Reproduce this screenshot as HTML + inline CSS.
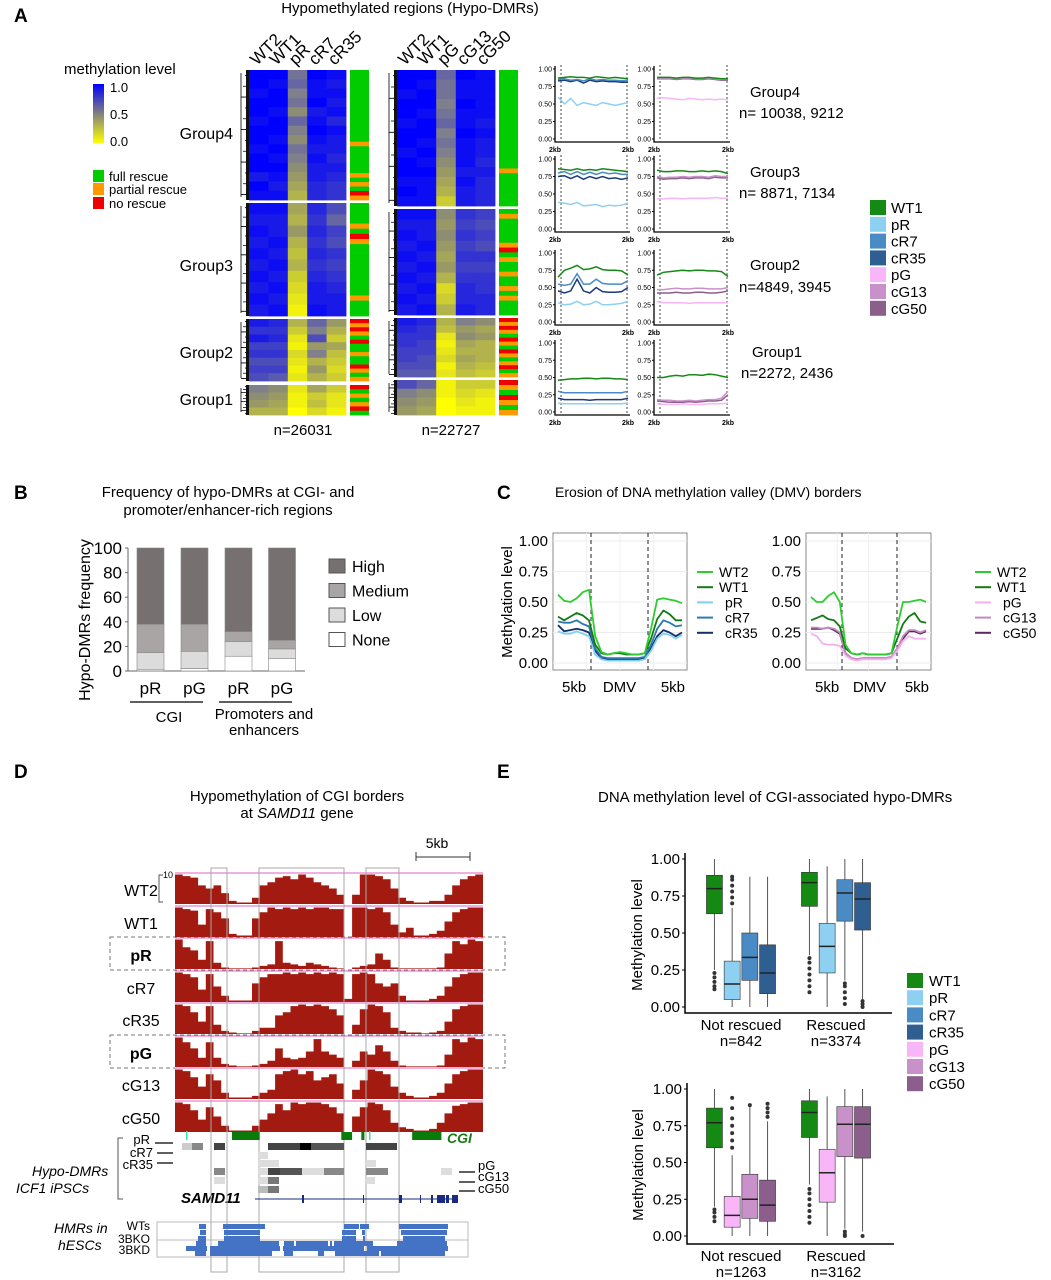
<!DOCTYPE html>
<html><head><meta charset="utf-8">
<style>
html,body{margin:0;padding:0;background:#fff;}
svg{display:block;font-family:"Liberation Sans",Arial,sans-serif;}
</style></head>
<body>
<svg id="fig" width="1051" height="1280" viewBox="0 0 1051 1280" xmlns="http://www.w3.org/2000/svg">
<rect x="0" y="0" width="1051" height="1280" fill="#fff"/>
<text x="14" y="22" font-size="19" font-weight="bold">A</text>
<text x="410" y="13" font-size="15" text-anchor="middle">Hypomethylated regions (Hypo-DMRs)</text>
<text x="64" y="74" font-size="15">methylation level</text>
<defs>
<linearGradient id="mgrad" x1="0" y1="0" x2="0" y2="1">
<stop offset="0" stop-color="#0000ff"/><stop offset="0.5" stop-color="#808080"/><stop offset="1" stop-color="#ffff00"/>
</linearGradient>
</defs>
<rect x="93" y="84" width="11" height="59" fill="url(#mgrad)"/>
<text x="110" y="92" font-size="13">1.0</text>
<text x="110" y="119" font-size="13">0.5</text>
<text x="110" y="146" font-size="13">0.0</text>
<rect x="93" y="170" width="11" height="12" fill="#00cc00"/>
<rect x="93" y="183" width="11" height="12" fill="#ff9900"/>
<rect x="93" y="197" width="11" height="12" fill="#ee0000"/>
<text x="109" y="181" font-size="13">full rescue</text>
<text x="109" y="194" font-size="13">partial rescue</text>
<text x="109" y="208" font-size="13">no rescue</text>
<text x="233" y="139" font-size="16" text-anchor="end">Group4</text>
<text x="233" y="271" font-size="16" text-anchor="end">Group3</text>
<text x="233" y="358" font-size="16" text-anchor="end">Group2</text>
<text x="233" y="405" font-size="16" text-anchor="end">Group1</text>
<text x="303" y="435" font-size="15" text-anchor="middle">n=26031</text>
<text x="451" y="435" font-size="15" text-anchor="middle">n=22727</text>
<text x="750" y="97" font-size="15">Group4</text>
<text x="739" y="118" font-size="15">n= 10038, 9212</text>
<text x="750" y="177" font-size="15">Group3</text>
<text x="739" y="198" font-size="15">n= 8871, 7134</text>
<text x="750" y="270" font-size="15">Group2</text>
<text x="739" y="292" font-size="15">n=4849, 3945</text>
<text x="752" y="357" font-size="15">Group1</text>
<text x="741" y="378" font-size="15">n=2272, 2436</text>

<text x="14" y="499" font-size="19" font-weight="bold">B</text>
<text x="228" y="497" font-size="15" text-anchor="middle">Frequency of hypo-DMRs at CGI- and</text>
<text x="228" y="515" font-size="15" text-anchor="middle">promoter/enhancer-rich regions</text>
<text transform="translate(90,620) rotate(-90)" font-size="16" text-anchor="middle">Hypo-DMRs frequency</text>
<line x1="130" y1="702" x2="203" y2="702" stroke="#000" stroke-width="1.3"/>
<line x1="219" y1="702" x2="292" y2="702" stroke="#000" stroke-width="1.3"/>
<text x="169" y="722" font-size="15" text-anchor="middle">CGI</text>
<text x="264" y="719" font-size="15" text-anchor="middle">Promoters and</text>
<text x="264" y="735" font-size="15" text-anchor="middle">enhancers</text>

<text x="497" y="499" font-size="19" font-weight="bold">C</text>
<text x="555" y="497" font-size="14">Erosion of DNA methylation valley (DMV) borders</text>
<text transform="translate(512,602) rotate(-90)" font-size="15" text-anchor="middle">Methylation level</text>

<text x="14" y="778" font-size="19" font-weight="bold">D</text>
<text x="297" y="801" font-size="15" text-anchor="middle">Hypomethylation of CGI borders</text>
<text x="297" y="818" font-size="15" text-anchor="middle">at <tspan font-style="italic">SAMD11</tspan> gene</text>
<text x="437" y="848" font-size="14" text-anchor="middle">5kb</text>
<path d="M416,852 V861 M416,857 H470 M470,852 V861" stroke="#333" fill="none"/>
<path d="M163,875 H159 V902 H163" stroke="#555" fill="none"/>
<text x="163" y="878" font-size="9">10</text>
<text x="32" y="1176" font-size="14" font-style="italic">Hypo-DMRs</text>
<text x="16" y="1193" font-size="14" font-style="italic">ICF1 iPSCs</text>
<path d="M123,1138 H118 V1199 H123" stroke="#555" fill="none"/>
<text x="54" y="1233" font-size="14" font-style="italic">HMRs in</text>
<text x="58" y="1250" font-size="14" font-style="italic">hESCs</text>
<text x="181" y="1203" font-size="15" font-style="italic" font-weight="bold">SAMD11</text>
<text x="447" y="1143" font-size="14" font-style="italic" font-weight="bold" fill="#1a7a1a">CGI</text>
<text x="150" y="1144" font-size="13" text-anchor="end">pR</text>
<text x="153" y="1157" font-size="13" text-anchor="end">cR7</text>
<text x="153" y="1169" font-size="13" text-anchor="end">cR35</text>
<path d="M155,1143 H173 M157,1153 H173 M157,1163 H173" stroke="#000" stroke-width="1.3"/>
<text x="478" y="1170" font-size="13">pG</text>
<text x="478" y="1181" font-size="13">cG13</text>
<text x="478" y="1193" font-size="13">cG50</text>
<path d="M459,1172 H475 M459,1182 H475 M459,1191 H475" stroke="#000" stroke-width="1.3"/>
<text x="150" y="1230" font-size="12" text-anchor="end">WTs</text>
<text x="150" y="1243" font-size="12" text-anchor="end">3BKO</text>
<text x="150" y="1254" font-size="12" text-anchor="end">3BKD</text>
<rect x="157" y="1222" width="311" height="35" fill="none" stroke="#bbb"/>
<line x1="157" y1="1240" x2="468" y2="1240" stroke="#bbb"/>

<text x="497" y="778" font-size="19" font-weight="bold">E</text>
<text x="598" y="802" font-size="15">DNA methylation level of CGI-associated hypo-DMRs</text>
<text transform="translate(642,935) rotate(-90)" font-size="15" text-anchor="middle">Methylation level</text>
<text transform="translate(643,1165) rotate(-90)" font-size="15" text-anchor="middle">Methylation level</text>
<g id="dyn"></g>
</svg>
<script>
var heatCols1 = ['WT2','WT1','pR','cR7','cR35'];
var heatCols2 = ['WT2','WT1','pG','cG13','cG50'];
var heatL_G4 = [[1,1,.95,1,1,.95,1,1,.95,1,1,.9,1,.95],[1,.95,1,1,.95,1,1,.95,1,.95,1,.95,.9,.95],[.55,.6,.5,.55,.45,.6,.5,.45,.55,.5,.45,.4,.35,.3],[1,.95,.95,1,.9,.95,1,.95,.9,.95,.9,.9,.85,.85],[.95,.9,.95,.9,.95,.85,.95,.9,.9,.85,.9,.85,.8,.8]];
var heatL_G3 = [[.95,.9,.95,.9,.95,.9,.95,.9,.95,.9],[.95,.9,.9,.95,.9,.95,.9,.95,.9,.95],[.35,.3,.4,.3,.25,.3,.2,.15,.1,.05],[.85,.8,.85,.8,.85,.8,.85,.9,.9,.95],[.7,.6,.75,.7,.8,.75,.8,.85,.9,.9]];
var heatL_G2 = [[.9,.8,.9,.75,.8,.7,.75,.7],[.85,.8,.85,.75,.8,.7,.75,.65],[.3,.2,.1,.05,.15,.1,.05,.1],[.6,.5,.7,.4,.5,.3,.4,.3],[.4,.3,.2,.35,.25,.2,.15,.2]];
var heatL_G1 = [[.5,.45,.4,.3],[.45,.4,.35,.3],[.1,.05,.05,0],[.35,.2,.25,.15],[.2,.1,.1,.05]];
var heatR_G4 = [[1,1,.95,1,1,.95,1,1,.95,1,1,.95,1,.95],[1,.95,1,1,.95,1,1,.95,1,.95,1,.95,.95,.95],[.6,.55,.55,.5,.55,.6,.5,.55,.5,.45,.4,.35,.3,.2],[1,.95,.95,1,.95,.95,1,.95,.95,.95,.9,.95,.9,.9],[.95,.95,.95,.95,.95,.9,.95,.9,.9,.85,.9,.85,.85,.85]];
var heatR_G3 = [[.95,.9,.95,.9,.95,.9,.95,.9,.95,.9],[.95,.9,.9,.95,.9,.95,.9,.95,.9,.95],[.45,.4,.45,.4,.35,.4,.3,.15,.2,.3],[.8,.75,.8,.75,.8,.75,.8,.85,.85,.9],[.75,.7,.75,.7,.8,.75,.8,.8,.85,.85]];
var heatR_G2 = [[.9,.85,.8,.8,.75,.75,.7,.65],[.85,.8,.8,.75,.75,.7,.7,.65],[.3,.25,.1,.05,.1,.15,.05,.1],[.5,.4,.45,.35,.3,.35,.3,.25],[.45,.35,.4,.3,.3,.3,.25,.2]];
var heatR_G1 = [[.7,.5,.45,.4],[.6,.45,.4,.35],[.05,.05,0,0],[.2,.15,.1,.05],[.2,.1,.05,.05]];
var rescL = [[0,0,0,0,0,0,0,0,0,0,0,0,0,0,0,0,1,0,0,0,0,0,0,1,0,1,0,2,1],[0,0,0,0,1,0,2,1,0,0,0,0,0,0,0,0,0,0,1,0,0,0],[2,1,2,1,0,2,0,0,1,0,0,2,1,0,1],[2,0,1,0,1,2,0]];
var rescR = [[0,0,0,0,0,0,0,0,0,0,0,0,0,0,0,0,0,0,0,0,0,1,0,0,0,0,0,0,0],[0,1,0,0,0,0,0,1,2,0,1,0,0,1,0,0,1,0,1,0,0,0],[2,1,2,1,0,2,1,0,2,1,0,1,2,0,1],[2,1,0,2,1,0,1]];

var profSeriesL = ['WT1','pR','cR7','cR35'];
var profSeriesR = ['WT1','pG','cG13','cG50'];
var profG4L = [[.87,.88,.89,.88,.88,.87,.89,.88,.87,.88,.87,.86],[.6,.5,.58,.48,.52,.5,.48,.52,.5,.48,.5,.52],[.85,.86,.84,.85,.83,.86,.84,.85,.84,.84,.83,.84],[.83,.84,.82,.84,.8,.84,.82,.83,.82,.82,.81,.81]];
var profG4R = [[.88,.88,.88,.87,.88,.88,.87,.87,.88,.87,.86,.86],[.58,.59,.58,.57,.56,.58,.57,.56,.57,.56,.57,.56],[.87,.87,.87,.86,.87,.87,.86,.86,.87,.86,.85,.85],[.86,.86,.86,.85,.86,.86,.85,.85,.86,.85,.84,.84]];
var profG3L = [[.86,.85,.84,.86,.84,.85,.84,.86,.85,.84,.83,.82],[.38,.37,.35,.38,.33,.34,.35,.32,.34,.33,.34,.37],[.8,.82,.78,.82,.78,.81,.78,.81,.79,.8,.78,.78],[.75,.76,.72,.76,.71,.75,.72,.75,.72,.73,.71,.73]];
var profG3R = [[.84,.82,.82,.83,.83,.82,.82,.83,.82,.83,.82,.79],[.43,.43,.44,.44,.43,.44,.44,.44,.44,.45,.44,.44],[.75,.73,.74,.74,.75,.74,.75,.75,.74,.76,.75,.75],[.73,.71,.72,.72,.73,.72,.73,.73,.72,.74,.73,.73]];
var profG2L = [[.65,.75,.78,.82,.76,.77,.8,.76,.75,.75,.74,.68],[.28,.25,.26,.3,.25,.26,.3,.25,.25,.26,.27,.3],[.55,.53,.55,.7,.55,.55,.62,.56,.55,.55,.55,.6],[.45,.42,.45,.62,.45,.42,.5,.44,.43,.43,.44,.5]];
var profG2R = [[.68,.72,.73,.74,.75,.74,.75,.75,.74,.74,.73,.66],[.3,.28,.28,.28,.28,.27,.28,.28,.28,.28,.28,.28],[.47,.47,.48,.49,.48,.48,.49,.49,.48,.48,.48,.5],[.42,.42,.42,.43,.42,.42,.43,.43,.42,.42,.43,.45]];
var profG1L = [[.46,.47,.48,.48,.49,.49,.48,.49,.49,.48,.48,.47],[.13,.12,.12,.12,.12,.12,.12,.12,.12,.12,.12,.13],[.3,.28,.28,.28,.28,.28,.28,.28,.28,.28,.28,.3],[.2,.18,.18,.18,.18,.17,.18,.18,.18,.18,.18,.2]];
var profG1R = [[.5,.5,.52,.53,.52,.54,.54,.53,.55,.54,.52,.5],[.12,.11,.11,.11,.12,.11,.11,.11,.12,.12,.12,.13],[.18,.17,.17,.16,.16,.17,.16,.17,.18,.18,.2,.3],[.16,.15,.14,.14,.14,.15,.14,.15,.16,.16,.17,.25]];
var profTicks = [0,0.25,0.5,0.75,1];
var profTickLabels = ['0.00','0.25','0.50','0.75','1.00'];

var legendNames = ['WT1','pR','cR7','cR35','pG','cG13','cG50'];

var freqCats = ['pR','pG','pR','pG'];
var freqNone = [1,2,12,10];
var freqLow = [14,14,12,8];
var freqMedium = [23,22,8,7];
var freqHigh = [62,62,68,75];
var freqTicks = [0,20,40,60,80,100];
var freqLevels = ['High','Medium','Low','None'];

var dmvTicks = [0,0.25,0.5,0.75,1];
var dmvTickLabels = ['0.00','0.25','0.50','0.75','1.00'];
var dmvNamesL = ['WT2','WT1','pR','cR7','cR35'];
var dmvNamesR = ['WT2','WT1','pG','cG13','cG50'];
var dmvL_WT2 = [.56,.51,.5,.53,.58,.6,.22,.09,.07,.08,.09,.08,.07,.07,.08,.28,.52,.53,.52,.51,.49];
var dmvL_WT1 = [.38,.35,.38,.41,.39,.35,.15,.08,.07,.08,.08,.07,.07,.07,.08,.2,.36,.43,.4,.35,.35];
var dmvL_pR = [.26,.24,.24,.26,.24,.22,.07,.03,.02,.02,.02,.02,.02,.02,.03,.1,.2,.24,.23,.2,.23];
var dmvL_cR7 = [.34,.33,.33,.35,.32,.3,.12,.05,.04,.04,.04,.04,.04,.04,.05,.15,.28,.35,.33,.3,.31];
var dmvL_cR35 = [.31,.26,.27,.28,.27,.25,.1,.04,.03,.03,.03,.03,.03,.03,.04,.12,.22,.27,.25,.22,.25];
var dmvR_WT2 = [.54,.5,.5,.55,.58,.5,.15,.08,.07,.08,.07,.07,.07,.07,.08,.3,.5,.5,.51,.52,.5];
var dmvR_WT1 = [.35,.37,.39,.36,.35,.3,.12,.08,.07,.08,.07,.07,.07,.07,.08,.2,.32,.38,.41,.34,.33];
var dmvR_pG = [.24,.22,.16,.15,.15,.14,.06,.03,.02,.03,.03,.03,.03,.03,.04,.1,.18,.22,.2,.2,.2];
var dmvR_cG13 = [.29,.29,.28,.29,.28,.25,.08,.04,.03,.04,.04,.04,.04,.04,.05,.12,.22,.27,.27,.25,.27];
var dmvR_cG50 = [.28,.28,.28,.29,.27,.24,.08,.04,.03,.04,.04,.04,.04,.04,.05,.12,.2,.26,.26,.24,.26];

var trackNames = ['WT2','WT1','pR','cR7','cR35','pG','cG13','cG50'];
var cov_WT2 = [.95,.9,.85,.6,.5,.6,.35,.1,.05,.05,.2,.6,.7,.85,.9,.8,.95,.85,.7,.6,.5,.3,0,.3,.95,.95,.9,.8,.5,.2,.1,.05,.05,.1,.1,.3,.6,.8,.9,.95];
var cov_WT1 = [.95,.9,.85,.4,.9,.8,.6,.1,.05,.05,.6,.8,.95,.9,.95,.9,.95,.9,.95,.95,.9,.9,0,.95,.95,.9,.95,.8,.4,.15,.3,.05,.05,.1,.2,.5,.8,.9,.95,.95];
var cov_pR = [.95,.7,.6,.3,.9,.2,.05,.02,.02,.02,.05,.1,.15,.9,.2,.15,.1,.2,.15,.1,.05,.02,0,.05,.1,.15,.5,.3,.05,.02,.02,.02,.02,.02,.05,.5,.9,.8,.95,.9];
var cov_cR7 = [.95,.9,.8,.4,.9,.5,.2,.05,.05,.05,.6,.8,.9,.9,.95,.9,.95,.9,.95,.9,.95,.9,.1,.9,.95,.9,.6,.5,.6,.2,.05,.05,.05,.1,.2,.5,.8,.9,.95,.95];
var cov_cR35 = [.95,.9,.7,.4,.9,.3,.1,.05,.02,.02,.1,.2,.2,.6,.7,.9,.95,.9,.95,.9,.8,.6,0,.3,.8,.95,.9,.7,.2,.1,.05,.05,.02,.05,.1,.4,.8,.9,.95,.95];
var cov_pG = [.95,.8,.6,.3,.8,.3,.1,.05,.02,.02,.05,.1,.2,.6,.3,.25,.3,.5,.9,.5,.4,.3,0,.2,.5,.4,.7,.5,.2,.05,.02,.02,.02,.02,.05,.4,.9,.8,.95,.9];
var cov_cG13 = [.95,.9,.7,.4,.8,.6,.2,.05,.05,.05,.1,.2,.3,.8,.9,.95,.8,.9,.6,.7,.8,.5,0,.3,.6,.95,.9,.8,.4,.2,.1,.05,.05,.1,.2,.5,.8,.9,.95,.95];
var cov_cG50 = [.95,.9,.7,.4,.8,.5,.2,.05,.05,.05,.2,.4,.6,.9,.7,.95,.9,.95,.95,.9,.8,.6,0,.5,.8,.95,.9,.7,.3,.15,.1,.05,.05,.1,.3,.6,.85,.9,.95,.95];
var cgiStart = [0.185,0.54,0.605,0.77];
var cgiEnd = [0.275,0.575,0.615,0.865];

var boxCats = ['Not rescued','Rescued'];
var boxTopNames = ['WT1','pR','cR7','cR35'];
var boxBotNames = ['WT1','pG','cG13','cG50'];
var boxTopNR = [[.25,.63,.8,.89,1],[0,.05,.155,.31,.67],[0,.18,.335,.5,.88],[0,.09,.23,.42,.88]];
var boxTopR = [[.35,.68,.84,.91,1],[0,.23,.41,.565,.95],[.18,.58,.77,.86,1],[.05,.52,.73,.84,1]];
var boxBotNR = [[.2,.6,.77,.87,1],[0,.06,.14,.27,.55],[0,.12,.25,.42,.88],[0,.1,.21,.38,.78]];
var boxBotR = [[.35,.67,.84,.92,1],[0,.23,.43,.59,.95],[.05,.54,.76,.88,1],[.03,.53,.76,.88,1]];
var outTopNR = [[.12,.14,.17,.2,.23],[.7,.74,.78,.82,.86,.88],[],[]];
var outTopR = [[.1,.14,.18,.22,.26,.3,.33],[],[.02,.06,.1,.14,.16],[0,.02,.04]];
var outBotNR = [[.1,.13,.16,.18],[.6,.65,.7,.75,.8,.87,.94],[.89],[.81,.84,.87,.9]];
var outBotR = [[.09,.13,.17,.21,.25,.29,.32],[],[0,.01,.03],[0]];
var boxTicks = [0,0.25,0.5,0.75,1];
var boxTickLabels = ['0.00','0.25','0.50','0.75','1.00'];
var boxNTop = ['n=842','n=3374'];
var boxNBot = ['n=1263','n=3162'];

var NS = 'http://www.w3.org/2000/svg';
var root = document.getElementById('dyn');
var COL = {WT2:'#3ecf3e',WT1:'#148a14',pR:'#8ed0f2',cR7:'#4a8bc6',cR35:'#2f5f90',pG:'#f8b6f8',cG13:'#c991c9',cG50:'#8c5e8c'};
var COLC = {WT2:'#2fcc2f',WT1:'#137a13',pR:'#7fd0ee',cR7:'#2e78b0',cR35:'#12306a',pG:'#f6b0ee',cG13:'#c08ac0',cG50:'#5a2a5a'};
function mk(tag, attrs, name, parent){
  var e = document.createElementNS(NS, tag);
  for (var k in attrs) e.setAttribute(k, attrs[k]);
  
  
  (parent || root).appendChild(e);
  return e;
}
function txt(x,y,s,size,anchor,name,extra){
  var a = {x:x,y:y,'font-size':size,'text-anchor':anchor||'start'};
  if (extra) for (var k in extra) a[k]=extra[k];
  var t = mk('text', a, name);
  t.textContent = s;
  return t;
}
function lin(d0,d1,r0,r1){ return function(v){ return r0+(v-d0)/(d1-d0)*(r1-r0); }; }
function heatColor(v){
  var c0,c1,t;
  if (v<0.5){ c0=[255,255,0]; c1=[128,128,128]; t=v/0.5; }
  else { c0=[128,128,140]; c1=[0,0,255]; t=(v-0.5)/0.5; }
  var r=Math.round(c0[0]+(c1[0]-c0[0])*t), g=Math.round(c0[1]+(c1[1]-c0[1])*t), b=Math.round(c0[2]+(c1[2]-c0[2])*t);
  return 'rgb('+r+','+g+','+b+')';
}
var RESC = ['#00cc00','#ff9900','#ee0000'];

function heatmap(x0, cols, groups, bounds, resc, barX, tag){
  var cw = (tag==='L') ? 19.4 : 19.6;
  cols.forEach(function(c,ci){
    var lab = mk('text',{transform:'translate('+(x0+ci*cw+8)+',66) rotate(-45)','font-size':17},'heatmap-'+tag+'-col-'+c);
    lab.textContent = c;
  });
  groups.forEach(function(g,gi){
    var y0=bounds[gi][0], y1=bounds[gi][1];
    var n=g[0].length, rh=(y1-y0)/n;
    g.forEach(function(colVals,ci){
      colVals.forEach(function(v,ri){
        mk('rect',{x:x0+ci*cw,y:y0+ri*rh,width:cw+0.4,height:rh+0.4,fill:heatColor(v)},'heatmap-cell');
      });
    });
    var rs=resc[gi], rrh=(y1-y0)/rs.length;
    rs.forEach(function(s,ri){
      mk('rect',{x:barX,y:y0+ri*rrh,width:19,height:rrh+0.4,fill:RESC[s]},'rescue-cell');
    });
    var d='';
    var nk=Math.min(12,Math.floor((y1-y0)/3));
    for (var k=0;k<nk;k++){
      var yy=y0+(k+0.5)*(y1-y0)/nk;
      d+='M'+x0+','+yy+' H'+(x0-4-(k%3)*2);
    }
    d+='M'+(x0-8)+','+(y0+3)+' V'+(y1-3);
    mk('path',{d:d,stroke:'#000','stroke-width':0.8,fill:'none'},'dendrogram');
    mk('rect',{x:x0-3,y:y0,width:3,height:y1-y0,fill:'#111'},'dendrogram-leaves');
  });
}
heatmap(249, heatCols1, [heatL_G4,heatL_G3,heatL_G2,heatL_G1], [[70,200],[203,316],[319,381],[385,415]], rescL, 350, 'L');
heatmap(397, heatCols2, [heatR_G4,heatR_G3,heatR_G2,heatR_G1], [[70,206],[209,315],[318,377],[380,415]], rescR, 499, 'R');

function profPlot(x0,x1,yTop,yBot,series,names){
  var ys = lin(0,1,yBot,yTop);
  var xs = lin(0,series[0].length-1,x0+3,x1-2);
  mk('path',{d:'M'+x0+','+(yTop-3)+' V'+(yBot+3)+' H'+x1,stroke:'#000','stroke-width':1.3,fill:'none'},'profile-axes');
  profTicks.forEach(function(t,i){
    mk('line',{x1:x0-2,x2:x0,y1:ys(t),y2:ys(t),stroke:'#000'},'profile-tick');
    txt(x0-3,ys(t)+2.5,profTickLabels[i],7,'end','profile-tick-label');
  });
  mk('line',{x1:x0+6,x2:x0+6,y1:yTop-4,y2:yBot+3,stroke:'#444','stroke-dasharray':'2,2'},'profile-border-left');
  mk('line',{x1:x1-3,x2:x1-3,y1:yTop-4,y2:yBot+3,stroke:'#444','stroke-dasharray':'2,2'},'profile-border-right');
  txt(x0,yBot+13,'2kb',7,'middle','profile-x-label-left',{'font-weight':'bold'});
  txt(x1-2,yBot+13,'2kb',7,'middle','profile-x-label-right',{'font-weight':'bold'});
  var order=[1,3,2,0];
  order.forEach(function(si){
    var d='';
    series[si].forEach(function(v,i){ d+=(i?'L':'M')+xs(i).toFixed(1)+','+ys(v).toFixed(1); });
    mk('path',{d:d,stroke:COL[names[si]]==='#2f5f90'?'#1a3a78':COL[names[si]],'stroke-width':1.5,fill:'none'},'profile-line-'+names[si]);
  });
}
var rowsY=[[69,139],[159,229],[253,322],[343,412]];
var pl=[profG4L,profG3L,profG2L,profG1L], pr=[profG4R,profG3R,profG2R,profG1R];
rowsY.forEach(function(r,i){
  profPlot(555,630,r[0],r[1],pl[i],profSeriesL);
  profPlot(654,730,r[0],r[1],pr[i],profSeriesR);
});
legendNames.forEach(function(n,i){
  var y=200+i*16.8;
  mk('rect',{x:870,y:y,width:16,height:15,fill:COL[n]},'legend-swatch-'+n);
  txt(891,y+13,n,15,'start','legend-label-'+n);
});

(function(){
  var ys=lin(0,100,671,548);
  var xc=[150.5,194.5,238.5,282];
  mk('path',{d:'M128,548 V671 H305',stroke:'#666','stroke-width':1,fill:'none'},'freq-axes');
  freqTicks.forEach(function(t){
    txt(122,ys(t)+6,String(t),17,'end','freq-tick-label');
    mk('line',{x1:125,x2:128,y1:ys(t),y2:ys(t),stroke:'#666'},'freq-tick');
  });
  var fills={High:'#767070',Medium:'#a9a5a5',Low:'#dcdcdc',None:'#ffffff'};
  freqCats.forEach(function(c,i){
    var segs=[['None',freqNone[i]],['Low',freqLow[i]],['Medium',freqMedium[i]],['High',freqHigh[i]]];
    var acc=0;
    segs.forEach(function(s){
      mk('rect',{x:xc[i]-13.5,y:ys(acc+s[1]),width:27,height:ys(acc)-ys(acc+s[1]),fill:fills[s[0]],stroke:'#888','stroke-width':0.6},'freq-bar-'+c+'-'+s[0]);
      acc+=s[1];
    });
    txt(xc[i],694,c,17,'middle','freq-x-label');
  });
  freqLevels.forEach(function(l,i){
    var y=559+i*24.5;
    mk('rect',{x:329,y:y,width:16,height:14,fill:fills[l],stroke:'#555'},'freq-legend-swatch-'+l);
    txt(352,y+13,l,16,'start','freq-legend-label-'+l);
  });
})();

function dmvPlot(x0,x1,dl,dr,names,series,lx,tag){
  var yTop=533,yBot=670;
  var ys=lin(0,1,663,541), xs=lin(0,series[0].length-1,x0+5,x1-5);
  mk('rect',{x:x0,y:yTop,width:x1-x0,height:yBot-yTop,fill:'#fff',stroke:'#888','stroke-width':1},'dmv-plot-box-'+tag);
  dmvTicks.forEach(function(t,i){
    mk('line',{x1:x0,x2:x1,y1:ys(t),y2:ys(t),stroke:'#ebebeb'},'dmv-grid');
    txt(x0-5,ys(t)+5,dmvTickLabels[i],15,'end','dmv-tick-label');
  });
  [0.25,0.5,0.75].forEach(function(f){ mk('line',{x1:x0+(x1-x0)*f,x2:x0+(x1-x0)*f,y1:yTop,y2:yBot,stroke:'#f0f0f0'},'dmv-vgrid'); });
  mk('line',{x1:dl,x2:dl,y1:yTop,y2:yBot,stroke:'#222','stroke-dasharray':'4,3'},'dmv-border-left');
  mk('line',{x1:dr,x2:dr,y1:yTop,y2:yBot,stroke:'#222','stroke-dasharray':'4,3'},'dmv-border-right');
  for (var si=names.length-1;si>=0;si--){
    var d='';
    series[si].forEach(function(v,i){ d+=(i?'L':'M')+xs(i).toFixed(1)+','+ys(v).toFixed(1); });
    mk('path',{d:d,stroke:COLC[names[si]],'stroke-width':1.8,fill:'none','stroke-linejoin':'round'},'dmv-line-'+names[si]);
  }
  txt(x0+9,692,'5kb',15,'start','dmv-x-5kb-left');
  txt((dl+dr)/2,692,'DMV',15,'middle','dmv-x-dmv');
  txt(x1-2,692,'5kb',15,'end','dmv-x-5kb-right');
  names.forEach(function(n,i){
    var y=572+i*15.2;
    mk('line',{x1:lx,x2:lx+16,y1:y,y2:y,stroke:COLC[n],'stroke-width':2},'dmv-legend-line-'+n);
    txt(lx+22+(i>=2?6:0),y+5,n,14,'start','dmv-legend-label-'+n);
  });
}
dmvPlot(553,687,591,648,dmvNamesL,[dmvL_WT2,dmvL_WT1,dmvL_pR,dmvL_cR7,dmvL_cR35],697,'L');
dmvPlot(806,931,842,897,dmvNamesR,[dmvR_WT2,dmvR_WT1,dmvR_pG,dmvR_cG13,dmvR_cG50],975,'R');

(function(){
  var tx0=175,tx1=483,tw=tx1-tx0;
  var tops=[873,906,938,971,1003,1036,1068,1101], th=31;
  var covs=[cov_WT2,cov_WT1,cov_pR,cov_cR7,cov_cR35,cov_pG,cov_cG13,cov_cG50];
  mk('rect',{x:110,y:937,width:395,height:33,fill:'none',stroke:'#777','stroke-dasharray':'4,3'},'pr-highlight-box');
  mk('rect',{x:110,y:1035,width:395,height:33,fill:'none',stroke:'#777','stroke-dasharray':'4,3'},'pg-highlight-box');
  covs.forEach(function(c,ti){
    var y0=tops[ti], yb=y0+th, xs=lin(0,c.length,tx0,tx1);
    var d='M'+tx0+','+yb;
    c.forEach(function(v,i){ d+=' L'+xs(i).toFixed(1)+','+(yb-v*th).toFixed(1)+' L'+xs(i+1).toFixed(1)+','+(yb-v*th).toFixed(1); });
    d+=' L'+tx1+','+yb+' Z';
    mk('path',{d:d,fill:'#a31a10'},'coverage-track-'+trackNames[ti]);
    mk('line',{x1:tx0,x2:tx1,y1:y0,y2:y0,stroke:'#e060c0','stroke-width':1},'coverage-cap-'+trackNames[ti]);
    var bold = (trackNames[ti]==='pR'||trackNames[ti]==='pG');
    txt(141,y0+23,trackNames[ti],16,'middle','track-label-'+trackNames[ti],bold?{'font-weight':'bold'}:null);
  });
  [[211,227],[259,344],[366,399]].forEach(function(b,i){
    mk('rect',{x:b[0],y:868,width:b[1]-b[0],height:404,fill:'none',stroke:'#aaa','stroke-width':1},'dmr-highlight-'+i);
  });
  cgiStart.forEach(function(s,i){
    mk('rect',{x:tx0+s*tw,y:1132,width:(cgiEnd[i]-s)*tw,height:8,fill:'#0a7a0a'},'cgi-block');
  });
  mk('rect',{x:186,y:1131,width:1.5,height:9,fill:'#3ae0a0'},'cgi-tick');
  mk('rect',{x:369,y:1131,width:1.5,height:9,fill:'#3ae0a0'},'cgi-tick');
  var blk=[[182,1143,10,'#ccc'],[192,1143,11,'#888'],[214,1143,11,'#444'],[268,1143,32,'#444'],[300,1143,11,'#000'],[311,1143,33,'#555'],[366,1143,31,'#444'],
    [258,1152,10,'#ddd'],[258,1160,21,'#ddd'],[366,1160,10,'#ddd'],
    [214,1168,11,'#888'],[258,1168,10,'#ddd'],[268,1168,12,'#444'],[280,1168,22,'#555'],[302,1168,22,'#ddd'],[324,1168,20,'#888'],[366,1168,22,'#888'],[441,1168,11,'#ddd'],
    [214,1177,11,'#ddd'],[258,1177,10,'#ddd'],[268,1177,11,'#777'],[366,1177,9,'#ddd'],[258,1186,10,'#bbb'],[268,1186,11,'#777']];
  blk.forEach(function(b){ mk('rect',{x:b[0],y:b[1],width:b[2],height:7,fill:b[3]},'dmr-block'); });
  mk('line',{x1:255,x2:458,y1:1199,y2:1199,stroke:'#1a2a80','stroke-width':1},'samd11-intron-line');
  [[302,2],[363,1],[399,3],[420,1],[431,2],[437,8],[446,3],[452,6]].forEach(function(e){
    mk('rect',{x:e[0],y:1195,width:e[1],height:8,fill:'#1a2a80'},'samd11-exon');
  });
  var hm=[[199,206,1224],[223,265,1224],[344,359,1224],[360,369,1224],[399,448,1224],[200,206,1230],[224,260,1230],[342,356,1230],[362,365,1230],[401,447,1230],[198,206,1236],[224,260,1236],[342,356,1236],[363,365,1236],[403,445,1236],
    [196,206,1241],[218,279,1241],[284,294,1241],[296,328,1241],[330,332,1241],[334,373,1241],[397,447,1241],[186,207,1246],[210,280,1246],[283,364,1246],[367,448,1246],[195,206,1251],[210,272,1251],[284,293,1251],[318,324,1251],[335,379,1251],[381,445,1251]];
  hm.forEach(function(h){ mk('rect',{x:h[0],y:h[2],width:h[1]-h[0],height:5,fill:'#4472c4'},'hmr-bar'); });
})();

function boxPlot(axX, yTop0, y0, yBase, groups, outs, names, ns, tag){
  var ys=lin(0,1,y0,yTop0);
  var cats=[741,836];
  mk('path',{d:'M'+axX+','+(yTop0-6)+' V'+yBase+' H'+(axX+207),stroke:'#000','stroke-width':1.5,fill:'none'},'box-axes-'+tag);
  boxTicks.forEach(function(t,i){
    mk('line',{x1:axX-3,x2:axX,y1:ys(t),y2:ys(t),stroke:'#000'},'box-tick');
    txt(axX-5,ys(t)+5,boxTickLabels[i],15,'end','box-tick-label');
  });
  groups.forEach(function(g,ci){
    g.forEach(function(b,i){
      var cx=cats[ci]+(i-1.5)*17.7, w=16, n=names[i];
      mk('line',{x1:cx,x2:cx,y1:ys(b[0]),y2:ys(b[4]),stroke:'#555','stroke-width':1},'box-whisker-'+n);
      mk('rect',{x:cx-w/2,y:ys(b[3]),width:w,height:ys(b[1])-ys(b[3]),fill:COL[n],stroke:'#333','stroke-width':0.6},'box-'+boxCats[ci].replace(' ','-').toLowerCase()+'-'+n);
      mk('line',{x1:cx-w/2,x2:cx+w/2,y1:ys(b[2]),y2:ys(b[2]),stroke:'#222','stroke-width':1.5},'box-median-'+n);
      outs[ci][i].forEach(function(o){ mk('circle',{cx:cx,cy:ys(o),r:2,fill:'#333'},'box-outlier'); });
    });
    txt(cats[ci],yBase+17,boxCats[ci],15,'middle','box-cat-label');
    txt(cats[ci],yBase+33,ns[ci],15,'middle','box-n-label');
  });
}
boxPlot(685,859,1007,1013,[boxTopNR,boxTopR],[outTopNR,outTopR],boxTopNames,boxNTop,'top');
boxPlot(687,1089,1236,1244,[boxBotNR,boxBotR],[outBotNR,outBotR],boxBotNames,boxNBot,'bottom');
legendNames.forEach(function(n,i){
  var y=973+i*17.2;
  mk('rect',{x:907,y:y,width:16,height:15,fill:COL[n]},'box-legend-swatch-'+n);
  txt(929,y+13,n,15,'start','box-legend-label-'+n);
});
</script>
</body></html>
